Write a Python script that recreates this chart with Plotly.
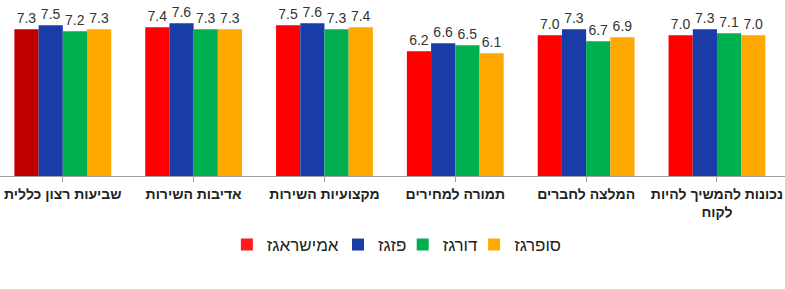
import plotly.graph_objects as go

categories = ["שביעות רצון כללית", "אדיבות השירות", "מקצועיות השירות",
              "תמורה למחירים", "המלצה לחברים", "נכונות להמשיך להיות<br>לקוח"]
series_names = ["אמישראגז", "פזגז", "דורגז", "סופרגז"]
amisragaz = [7.3, 7.4, 7.5, 6.2, 7.0, 7.0]
pazgaz = [7.5, 7.6, 7.6, 6.6, 7.3, 7.3]
dorgaz = [7.2, 7.3, 7.3, 6.5, 6.7, 7.1]
supergaz = [7.3, 7.3, 7.4, 6.1, 6.9, 7.0]

values = [amisragaz, pazgaz, dorgaz, supergaz]
colors = [["#C00000"] + ["#FF0000"] * 5, "#1A3CA6", "#00B050", "#FFA800"]
legend_colors = ["#FF1A1A", "#1A3CA6", "#00B050", "#FFA800"]
legend_ids = ["legend", "legend2", "legend3", "legend4"]
legend_x = [0.289, 0.4306, 0.513, 0.604]

x = list(range(len(categories)))
fig = go.Figure()
for name, vals, col in zip(series_names, values, colors):
    fig.add_trace(go.Bar(
        x=x, y=vals, name=name,
        marker=dict(color=col, line=dict(width=0)),
        text=[f"{v:.1f}" for v in vals],
        textposition="outside",
        textfont=dict(family="Liberation Sans, Arial", size=14, color="#333333"),
        constraintext="none",
        cliponaxis=False,
        showlegend=False,
    ))
# legend entries on a hidden overlay axis so they don't take bar slots
for name, col, lid in zip(series_names, legend_colors, legend_ids):
    fig.add_trace(go.Bar(x=[None], y=[None], name=name, xaxis="x2", yaxis="y2",
                         legend=lid,
                         marker=dict(color=col, line=dict(width=0)), showlegend=True))

legend_common = dict(orientation="h", xanchor="left", y=-0.392, yanchor="middle",
                     font=dict(size=17, color="#222222"), itemwidth=30,
                     bgcolor="rgba(0,0,0,0)")
fig.update_layout(
    width=785, height=289,
    margin=dict(l=0, r=0, t=0, b=113),
    barmode="group", bargap=0.26, bargroupgap=0,
    plot_bgcolor="white", paper_bgcolor="white",
    font=dict(family="Liberation Sans, Arial", color="#222222"),
    xaxis2=dict(overlaying="x", visible=False, range=[0, 1]),
    yaxis2=dict(overlaying="y", visible=False, range=[0, 1]),
)
for lid, lx in zip(legend_ids, legend_x):
    fig.update_layout({lid: dict(x=lx, **legend_common)})

fig.update_layout(xaxis=dict(
    tickmode="array", tickvals=x, ticktext=[f"<b>{c}</b>" for c in categories],
    range=[-0.48, 5.52], showline=True, linecolor="#A0A0A0", linewidth=1,
    ticks="outside", tickson="boundaries", ticklen=5, tickcolor="#A0A0A0",
    tickfont=dict(size=14, color="#222222"), showgrid=False,
))
fig.update_layout(yaxis=dict(range=[0, 8.75], visible=False, showgrid=False))

fig.write_html("out.html")
